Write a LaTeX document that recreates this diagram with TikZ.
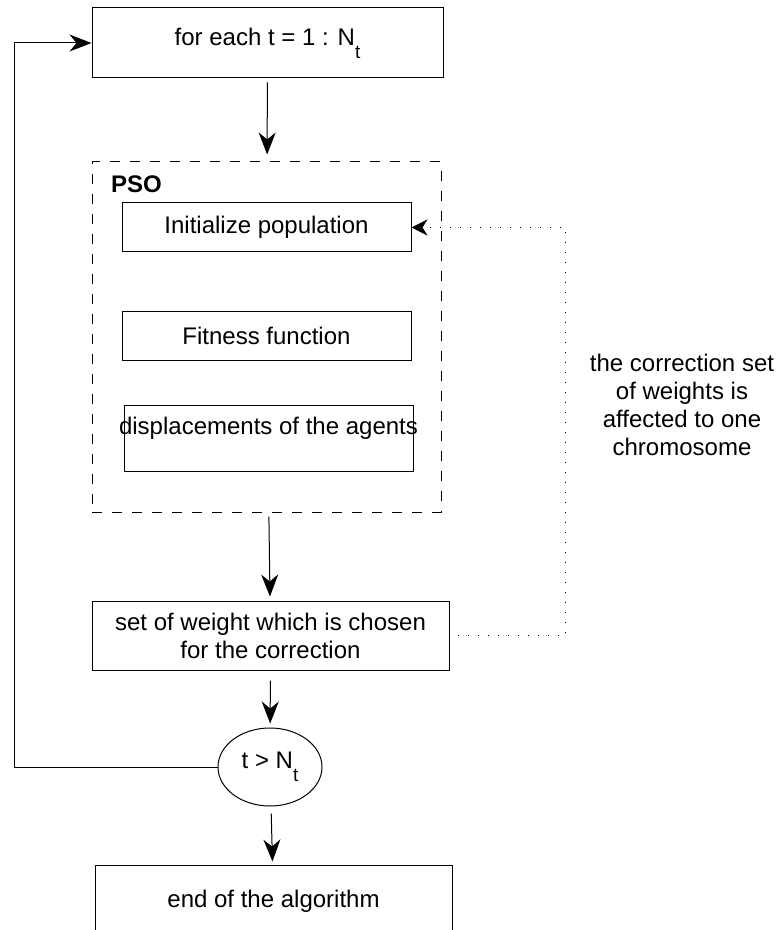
\documentclass[tikz,border=0pt]{standalone}
\usepackage{fontspec}
\setmainfont{Liberation Sans}
\usetikzlibrary{arrows.meta,shapes.geometric}

% lowered index as drawn in the loop labels
\newcommand{\lowidx}[1]{\raisebox{-6.5pt}{\fontsize{9.5}{11}\selectfont #1}}

\begin{document}
\begin{tikzpicture}[x=0.5pt, y=-0.5pt, line width=0.5pt,
  every node/.style={align=center, font=\fontsize{12}{14}\selectfont},
  stepbox/.style={draw, rectangle, inner sep=0pt},
  psoframe/.style={draw, rectangle, dash pattern=on 5pt off 5pt, inner sep=0pt},
  testbox/.style={draw, ellipse, inner sep=0pt, minimum width=52pt, minimum height=39pt},
  flow/.style={-{Stealth[length=11pt, width=8.5pt, inset=3.5pt]}, shorten <=2pt, shorten >=2pt},
  feedback/.style={-{Stealth[length=8pt, width=8pt, inset=2.5pt]}, dash pattern=on 0.5pt off 4.5pt}]

  \useasboundingbox (0,0) rectangle (781,930);

  % ── Main loop header ─────────────────────────────────────────
  \node[stepbox, minimum width=175.5pt, minimum height=35pt] (loophead) at (267.5,43)
    {for each t = 1 : N\lowidx{t}};

  % ── PSO block ────────────────────────────────────────────────
  \node[psoframe, minimum width=174.5pt, minimum height=175pt] (pso) at (266.5,337) {};
  \node[anchor=west, font=\fontsize{12}{14}\selectfont\bfseries] (psolabel) at (104,184) {PSO};

  \node[stepbox, minimum width=144.5pt, minimum height=24.5pt] (init) at (266.5,227.5)
    {Initialize population};
  \node[stepbox, minimum width=144.5pt, minimum height=24pt] (fitness) at (266.5,336)
    {Fitness function};
  \node[stepbox, minimum width=144.5pt, minimum height=33pt] (disp) at (268.5,438) {};
  \node (displabel) at (268.5,428) {displacements of the agents};

  % ── Selection, test and end ──────────────────────────────────
  \node[stepbox, minimum width=178.5pt, minimum height=34.5pt] (select) at (270.5,635.5)
    {set of weight which is chosen\\for the correction};
  \node[testbox] (cond) at (270,767) {t \textgreater{} N\lowidx{t}};
  \node[stepbox, minimum width=178.5pt, minimum height=36pt] (finish) at (273.5,901)
    {end of the algorithm};

  \node (note) at (682,405)
    {the correction set\\of weights is\\affected to one\\chromosome};

  % ── Connectors ───────────────────────────────────────────────
  \coordinate (loopx) at (14,0);
  \coordinate (backx) at (565,0);

  \draw[flow, shorten >=3.5pt] (loophead) -- (pso);
  \draw[flow] (pso) -- (select);
  \draw[flow, shorten <=5pt] (select) -- (cond);
  \draw[flow, shorten <=3.5pt, shorten >=1.5pt] (cond) -- (finish);
  \draw[flow, shorten <=0pt, shorten >=0pt] (cond.west) -- (cond.west -| loopx) |- (loophead.west);
  \draw[feedback, shorten <=4pt] (select.east) -- (select.east -| backx) |- (init.east);

\end{tikzpicture}
\end{document}
